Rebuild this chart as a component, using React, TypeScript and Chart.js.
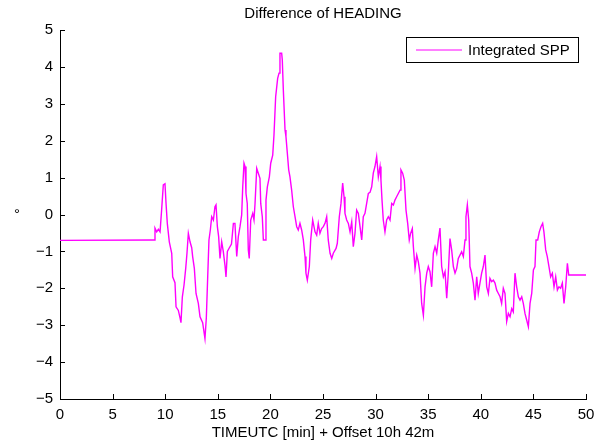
import React, { useEffect, useRef } from "react";
import { Chart, registerables } from "chart.js";

Chart.register(...registerables);

const chartTitle = "Difference of HEADING";
const xAxisLabel = "TIMEUTC [min] + Offset 10h 42m";
const yAxisLabel = "°";
const seriesName = "Integrated SPP";

const xTickValues = [0, 5, 10, 15, 20, 25, 30, 35, 40, 45, 50];
const yTickValues = [-5, -4, -3, -2, -1, 0, 1, 2, 3, 4, 5];

// time in minutes
const timeMin = [
  0, 8.94, 9.03, 9.19, 9.35, 9.51, 9.66, 9.82, 9.98, 10.08, 10.2, 10.39, 10.62, 10.71, 10.93,
  11.03, 11.25, 11.41, 11.5, 11.63, 11.79, 11.95, 12.07, 12.2, 12.36, 12.52, 12.61, 12.77, 12.93,
  13.15, 13.31, 13.56, 13.78, 13.91, 14.04, 14.16, 14.29, 14.42, 14.58, 14.73, 14.83, 14.96,
  15.08, 15.21, 15.37, 15.52, 15.68, 15.78, 15.91, 16.1, 16.3, 16.48, 16.63, 16.8, 16.95, 17.11,
  17.27, 17.37, 17.49, 17.59, 17.68, 17.8, 17.9, 17.99, 18.13, 18.32, 18.44, 18.54, 18.7, 18.85,
  19.01, 19.08, 19.23, 19.33, 19.49, 19.58, 19.71, 19.9, 20.03, 20.22, 20.34, 20.5, 20.69, 20.82,
  20.91, 21.07, 21.13, 21.23, 21.39, 21.48, 21.61, 21.74, 21.86, 22.02, 22.18, 22.34, 22.5,
  22.65, 22.81, 22.97, 23.13, 23.29, 23.38, 23.51, 23.7, 23.83, 24.02, 24.24, 24.4, 24.55, 24.71,
  24.87, 25.03, 25.19, 25.35, 25.5, 25.67, 25.83, 25.98, 26.24, 26.36, 26.55, 26.71, 26.87, 27.0,
  27.09, 27.25, 27.41, 27.57, 27.73, 27.88, 28.04, 28.2, 28.36, 28.52, 28.68, 28.83, 28.99,
  29.15, 29.31, 29.47, 29.63, 29.78, 29.94, 30.1, 30.26, 30.42, 30.51, 30.61, 30.73, 30.89,
  31.05, 31.21, 31.37, 31.53, 31.69, 31.84, 32.0, 32.16, 32.32, 32.41, 32.57, 32.73, 32.89,
  33.05, 33.2, 33.33, 33.49, 33.59, 33.75, 33.91, 34.06, 34.22, 34.38, 34.54, 34.7, 34.86,
  35.01, 35.17, 35.33, 35.49, 35.65, 35.81, 35.96, 36.12, 36.28, 36.44, 36.6, 36.76, 36.91,
  37.07, 37.23, 37.39, 37.55, 37.71, 37.86, 38.02, 38.18, 38.34, 38.5, 38.59, 38.72, 38.85,
  38.97, 39.13, 39.29, 39.45, 39.61, 39.76, 39.92, 40.08, 40.24, 40.4, 40.56, 40.72, 40.87,
  41.03, 41.19, 41.35, 41.51, 41.67, 41.83, 41.98, 42.14, 42.3, 42.46, 42.62, 42.78, 42.94,
  43.09, 43.25, 43.41, 43.57, 43.73, 43.89, 44.04, 44.2, 44.36, 44.52, 44.68, 44.84, 45.0,
  45.15, 45.25, 45.41, 45.56, 45.72, 45.88, 46.0, 46.17, 46.32, 46.48, 46.64, 46.8, 46.96,
  47.12, 47.28, 47.43, 47.59, 47.75, 47.91, 48.07, 48.23, 48.36, 50.0,
];

// heading difference in degrees
const headingDiff = [
  -0.7, -0.69, -0.37, -0.47, -0.4, -0.47, 0.12, 0.8, 0.83, 0.3, -0.24, -0.74, -1.05, -1.69, -1.85,
  -2.5, -2.6, -2.8, -2.93, -2.23, -1.91, -1.46, -1.05, -0.51, -0.74, -0.9, -1.14, -1.46, -2.14,
  -2.41, -2.77, -2.93, -3.36, -2.8, -1.69, -0.69, -0.42, -0.06, -0.15, 0.21, 0.26, -0.33,
  -0.6, -1.19, -0.74, -1.0, -1.37, -1.69, -1.0, -0.9, -0.8, -0.24, -0.24, -1.14, -0.6, -0.33,
  -0.01, 0.75, 1.39, 1.3, 0.57, 0.3, -0.96, -1.19, -0.15, 0.03, -0.15, 0.3, 1.25, 1.12,
  0.98, 0.3, -0.06, -0.69, -0.69, 0.39, 0.75, 1.02, 1.39, 1.61, 2.15, 3.19, 3.69, 3.83,
  4.37, 4.37, 4.19, 3.37, 2.29, 2.11, 1.66, 1.21, 1.02, 0.66, 0.21, -0.06, -0.33,
  -0.42, -0.24, -0.42, -0.69, -1.14, -1.59, -1.78, -1.41, -0.69, -0.15, -0.47, -0.56, -0.24, -0.51,
  -0.38, -0.33, -0.24, -0.06, -0.69, -1.05, -1.19, -1.05, -0.92, -0.78, -0.06, 0.3, 0.85, 0.48,
  0.03, -0.15, -0.24, -0.47, -0.2, -0.87, -0.51, 0.12, 0.03, -0.33, -0.69, -0.06, 0.03,
  0.3, 0.57, 0.6, 0.75, 1.12, 1.3, 1.57, 1.02, 1.3, 0.93, 0.39, -0.15, -0.47,
  -0.15, -0.06, -0.15, 0.3, 0.26, 0.39, 0.48, 0.57, 0.66, 1.21, 1.12, 0.93, 0.12,
  -0.24, -0.69, -0.51, -0.38, -0.87, -1.46, -1.1, -1.28, -1.59, -2.41, -2.73, -1.96, -1.59,
  -1.41, -1.55, -1.96, -1.05, -0.87, -1.05, -0.69, -0.37, -1.41, -1.69, -1.55, -2.27, -1.59,
  -0.65, -0.96, -1.41, -1.59, -1.46, -1.19, -1.1, -1.01, -1.14, -0.69, -0.06, 0.26, -0.15,
  -1.41, -1.59, -1.86, -2.32, -1.69, -2.14, -1.86, -1.59, -1.41, -1.1, -1.96, -2.14, -1.73,
  -1.82, -1.78, -1.86, -2.05, -2.14, -2.23, -2.41, -2.0, -2.14, -2.9, -2.68, -2.77, -2.55,
  -2.64, -1.59, -1.96, -2.23, -2.32, -2.23, -2.41, -2.68, -2.86, -3.04, -2.41, -2.14, -1.5,
  -1.41, -0.69, -0.69, -0.47, -0.33, -0.24, -0.47, -0.96, -1.14, -1.41, -1.69, -1.59, -1.96,
  -1.69, -2.05, -1.96, -2.0, -1.86, -2.41, -1.96, -1.32, -1.64, -1.64,
];

const FONT = '"Liberation Sans", Arial, Helvetica, sans-serif';
const FONT_SIZE = 15;
const LINE_COLOR = "#ff00ff";

const fmtTick = (v: number) => (v < 0 ? "\u2212" + Math.abs(v) : String(v));

const matlabDecor = {
  id: "matlabDecor",
  afterDraw(chart: any) {
    const { ctx, chartArea, scales } = chart;
    const xs = scales.x;
    const ys = scales.y;
    const { left, right, top, bottom } = chartArea;
    ctx.save();
    // inward ticks
    ctx.strokeStyle = "#000";
    ctx.lineWidth = 1;
    ctx.beginPath();
    xTickValues.forEach((v) => {
      const px = Math.round(xs.getPixelForValue(v)) + 0.5;
      ctx.moveTo(px, bottom);
      ctx.lineTo(px, bottom - 5);
    });
    yTickValues.forEach((v) => {
      const py = Math.round(ys.getPixelForValue(v)) + 0.5;
      ctx.moveTo(left, py);
      ctx.lineTo(left + 5, py);
    });
    ctx.stroke();

    ctx.fillStyle = "#000";
    ctx.font = `${FONT_SIZE}px ${FONT}`;
    ctx.textAlign = "center";
    ctx.textBaseline = "middle";
    // title
    ctx.fillText(chartTitle, (left + right) / 2, 14);
    // x label
    ctx.fillText(xAxisLabel, (left + right) / 2, 433);
    // y label
    ctx.fillText(yAxisLabel, 17, (top + bottom) / 2);

    // legend
    const boxW = 172;
    const boxH = 25;
    const bx = right - 8 - boxW;
    const by = top + 7;
    ctx.fillStyle = "#fff";
    ctx.fillRect(bx, by, boxW, boxH);
    ctx.strokeStyle = "#000";
    ctx.strokeRect(bx + 0.5, by + 0.5, boxW, boxH);
    ctx.strokeStyle = LINE_COLOR;
    ctx.lineWidth = 1;
    ctx.beginPath();
    ctx.moveTo(bx + 10, by + 13);
    ctx.lineTo(bx + 56, by + 13);
    ctx.stroke();
    ctx.fillStyle = "#000";
    ctx.textAlign = "left";
    ctx.fillText(seriesName, bx + 62, by + 13.5);
    ctx.restore();
  },
};

export default function App() {
  const canvasRef = useRef<HTMLCanvasElement | null>(null);

  useEffect(() => {
    if (!canvasRef.current) return;
    const points = timeMin.map((t, i) => ({ x: t, y: headingDiff[i] }));
    const chart = new Chart(canvasRef.current, {
      type: "line",
      data: {
        datasets: [
          {
            label: seriesName,
            data: points,
            borderColor: LINE_COLOR,
            backgroundColor: LINE_COLOR,
            borderWidth: 1.4,
            pointRadius: 0,
            tension: 0,
          },
        ],
      },
      options: {
        animation: false,
        responsive: false,
        devicePixelRatio: 1,
        layout: { padding: { top: 30, right: 19, left: 0, bottom: 0 } },
        plugins: {
          legend: { display: false },
          title: { display: false },
          tooltip: { enabled: false },
        },
        scales: {
          x: {
            type: "linear",
            min: 0,
            max: 50,
            grid: { display: false, drawTicks: false },
            border: { display: true, color: "#000", width: 1 },
            ticks: {
              stepSize: 5,
              color: "#000",
              font: { family: FONT, size: FONT_SIZE },
              padding: 7,
              maxRotation: 0,
              callback: (v: any) => fmtTick(Number(v)),
            },
            afterFit: (s: any) => {
              s.height = 48;
            },
          },
          y: {
            type: "linear",
            min: -5,
            max: 5,
            grid: { display: false, drawTicks: false },
            border: { display: true, color: "#000", width: 1 },
            ticks: {
              stepSize: 1,
              color: "#000",
              font: { family: FONT, size: FONT_SIZE },
              padding: 7,
              callback: (v: any) => fmtTick(Number(v)),
            },
            afterFit: (s: any) => {
              s.width = 60;
            },
          },
        },
      },
      plugins: [matlabDecor],
    });
    return () => chart.destroy();
  }, []);

  return (
    <div style={{ position: "absolute", left: 0, top: 0, width: 605, height: 447, background: "#fff" }}>
      <canvas ref={canvasRef} width={605} height={447} style={{ width: 605, height: 447, display: "block" }} />
    </div>
  );
}
